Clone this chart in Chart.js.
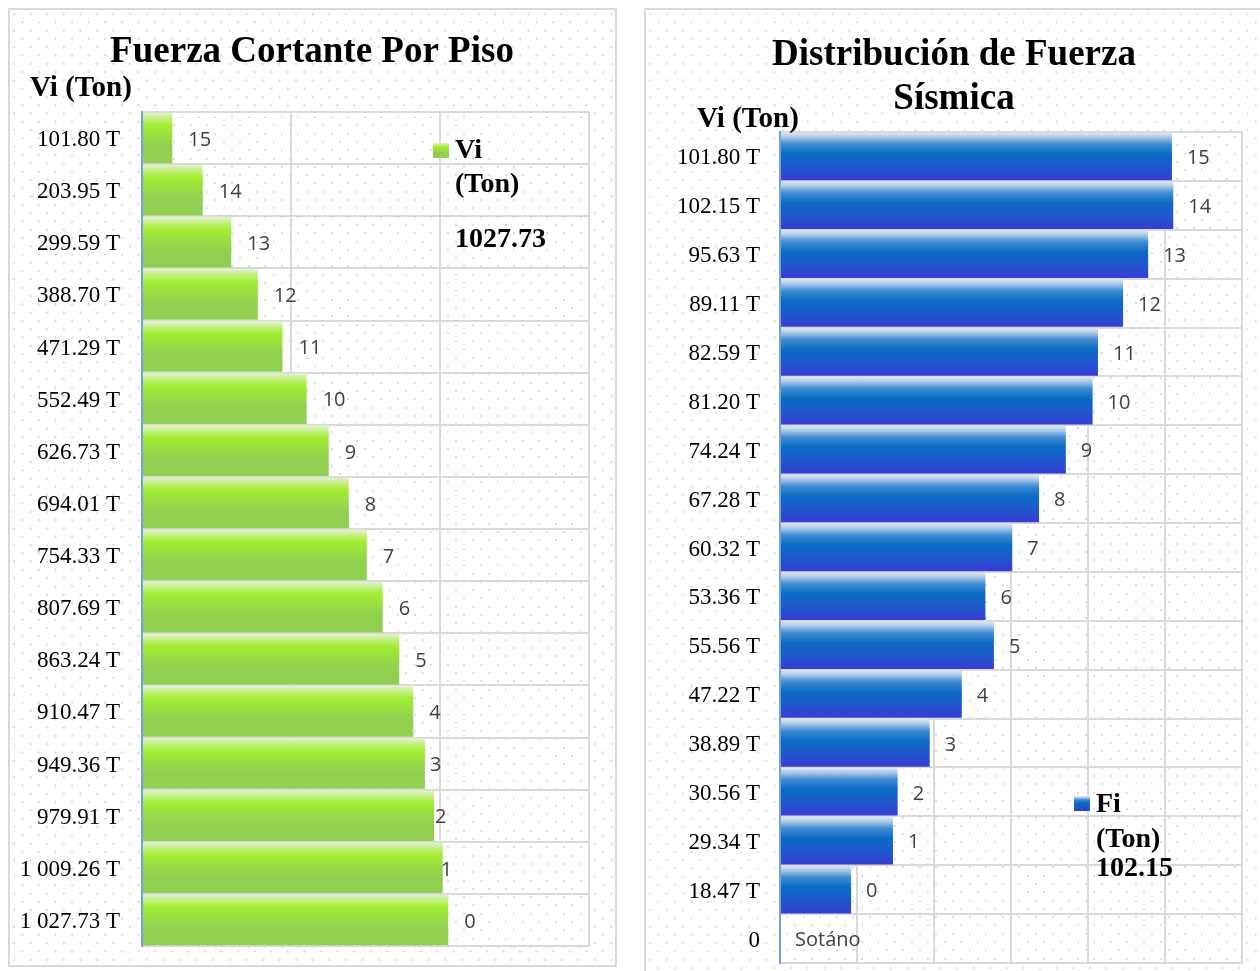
<!DOCTYPE html>
<html>
<head>
<meta charset="utf-8">
<script src="https://cdn.jsdelivr.net/npm/chart.js@4.4.1/dist/chart.umd.min.js"></script>
<style>
    body {
        margin: 0;
        width: 1260px;
        height: 971px;
        overflow: hidden;
        background: #fff;
        position: relative;
    }
    .caja {
        position: absolute;
        border: 2px solid #d9d9d9;
        background-color: #fff;
        background-size: 16.6px 16.6px;
        background-position: 4px 4px, 12.3px 12.3px;
    }
    #cajaCortante {
        left: 8px;
        top: 8px;
        width: 605px;
        height: 955px;
        background-image: radial-gradient(circle, #f9cdb4 0.9px, transparent 1.4px),
                          radial-gradient(circle, #f9cdb4 0.9px, transparent 1.4px);
    }
    #cajaSismica {
        left: 644px;
        top: 8px;
        width: 616px;
        height: 970px;
        background-image: radial-gradient(circle, #d3e6c6 0.9px, transparent 1.4px),
                          radial-gradient(circle, #d3e6c6 0.9px, transparent 1.4px);
    }
    canvas { display: block; }
</style>
</head>
<body>
<div class="caja" id="cajaCortante"><canvas id="cortanteChart" width="605" height="955"></canvas></div>
<div class="caja" id="cajaSismica"><canvas id="sismicaChart" width="616" height="970"></canvas></div>

<script>
// Fuerza cortante por piso (Vi)
const ticksCortante = [
    '101.80 T', '203.95 T', '299.59 T', '388.70 T', '471.29 T', '552.49 T', '626.73 T', '694.01 T',
    '754.33 T', '807.69 T', '863.24 T', '910.47 T', '949.36 T', '979.91 T', '1 009.26 T', '1 027.73 T'
];
const valoresCortante = [
    101.80, 203.95, 299.59, 388.70, 471.29, 552.49, 626.73, 694.01,
    754.33, 807.69, 863.24, 910.47, 949.36, 979.91, 1009.26, 1027.73
];
const pisosCortante = ['15', '14', '13', '12', '11', '10', '9', '8', '7', '6', '5', '4', '3', '2', '1', '0'];
const leyendaCortante = ['Vi', '(Ton)', '1027.73'];

// Distribucion de fuerza sismica (Fi)
const ticksSismica = [
    '101.80 T', '102.15 T', '95.63 T', '89.11 T', '82.59 T', '81.20 T', '74.24 T', '67.28 T', '60.32 T',
    '53.36 T', '55.56 T', '47.22 T', '38.89 T', '30.56 T', '29.34 T', '18.47 T', '0'
];
const valoresSismica = [
    101.80, 102.15, 95.63, 89.11, 82.59, 81.20, 74.24, 67.28, 60.32,
    53.36, 55.56, 47.22, 38.89, 30.56, 29.34, 18.47, 0
];
const pisosSismica = ['15', '14', '13', '12', '11', '10', '9', '8', '7', '6', '5', '4', '3', '2', '1', '0', 'Sotáno'];
const leyendaSismica = ['Fi', '(Ton)', '102.15'];

const VERDE = [[0, '#e8f2dc'], [0.08, '#cff09c'], [0.25, '#a2ee32'], [0.65, '#92d050'], [1, '#91cf52']];
const AZUL = [[0, '#e2ebf6'], [0.1, '#aecbea'], [0.25, '#3f8bd1'], [0.45, '#0a6cc3'], [0.72, '#1f57cc'], [1, '#3a3ad6']];

const SERIF = '"Liberation Serif", "Times New Roman", serif';

function gradiente(ctx, stops, y0, y1) {
    const g = ctx.createLinearGradient(0, y0, 0, y1);
    stops.forEach(s => g.addColorStop(s[0], s[1]));
    return g;
}

// one gradient per bar, from its top edge to its bottom edge
function colorBarra(stops) {
    return function (context) {
        const chart = context.chart;
        const { ctx, chartArea, scales } = chart;
        if (!chartArea || !scales.y || context.dataIndex === undefined) return stops[3][1];
        const y = scales.y.getPixelForValue(context.dataIndex);
        const h = (chartArea.bottom - chartArea.top) / chart.data.labels.length;
        return gradiente(ctx, stops, y - h / 2, y + h / 2);
    };
}

function etiquetas(textos, desfase, especiales) {
    return {
        id: 'etiquetas',
        afterDatasetsDraw(chart) {
            const ctx = chart.ctx;
            const meta = chart.getDatasetMeta(0);
            ctx.save();
            ctx.font = '20px "Open Sans", sans-serif';
            ctx.fillStyle = '#404040';
            ctx.textAlign = 'left';
            ctx.textBaseline = 'middle';
            meta.data.forEach((bar, i) => {
                const dx = (especiales && especiales[i] !== undefined) ? especiales[i] : desfase;
                ctx.fillText(textos[i], bar.x + dx, bar.y + 2);
            });
            ctx.restore();
        }
    };
}

function decoracion(cfg) {
    return {
        id: 'decoracion',
        beforeDraw(chart) {
            const { ctx, chartArea: a } = chart;
            ctx.save();
            ctx.fillStyle = '#fff';
            ctx.fillRect(a.left, a.top, a.right - a.left, a.bottom - a.top);
            ctx.fillStyle = '#cfe0f3';
            for (let y = a.top + 4, r = 0; y < a.bottom; y += 8.3, r++) {
                for (let x = a.left + 6 + (r % 2) * 8.3; x < a.right; x += 16.6) {
                    ctx.fillRect(Math.round(x), Math.round(y), 2, 2);
                }
            }
            ctx.restore();
        },
        afterDraw(chart) {
            const ctx = chart.ctx;
            ctx.save();
            ctx.fillStyle = '#000';
            ctx.textBaseline = 'middle';

            ctx.font = 'bold 37px ' + SERIF;
            ctx.textAlign = 'center';
            cfg.titulo.forEach((t, i) => ctx.fillText(t, cfg.tituloX, cfg.tituloY + i * 44));

            ctx.font = 'bold 29px ' + SERIF;
            ctx.textAlign = 'left';
            ctx.fillText('Vi (Ton)', cfg.ejeX, cfg.ejeY);

            const l = cfg.leyenda;
            ctx.fillStyle = gradiente(ctx, cfg.colores, l.y, l.y + 15);
            ctx.fillRect(l.x, l.y, 16, 15);
            ctx.fillStyle = '#000';
            ctx.font = 'bold 28px ' + SERIF;
            l.textos.forEach((t, i) => ctx.fillText(t, l.x + 22, l.lineas[i]));
            ctx.restore();
        }
    };
}

function crearGrafico(id, cfg) {
    const ctx = document.getElementById(id).getContext('2d');
    return new Chart(ctx, {
        type: 'bar',
        data: {
            labels: cfg.ticks,
            datasets: [{
                label: cfg.leyenda.textos.join(' '),
                data: cfg.valores,
                backgroundColor: colorBarra(cfg.colores),
                borderWidth: 0,
                barPercentage: 0.97,
                categoryPercentage: 1
            }]
        },
        options: {
            indexAxis: 'y',
            responsive: false,
            animation: false,
            layout: { padding: cfg.padding },
            plugins: {
                legend: { display: false },
                title: { display: false },
                tooltip: { enabled: false }
            },
            scales: {
                x: {
                    min: 0,
                    max: cfg.max,
                    ticks: { display: false, stepSize: cfg.paso },
                    grid: {
                        color: c => c.index === 0 ? 'rgba(0,0,0,0)' : '#d9d9d9',
                        lineWidth: 2,
                        drawTicks: false
                    },
                    border: { color: '#d9d9d9', width: 2 },
                    afterFit: s => { s.height = 0; s.paddingLeft = 0; s.paddingRight = 0; }
                },
                y: {
                    ticks: {
                        color: '#000',
                        padding: cfg.tickPad,
                        labelOffset: 2,
                        font: { family: SERIF, size: 23 }
                    },
                    grid: { color: '#d9d9d9', lineWidth: 2, drawTicks: false },
                    border: { color: '#6fa3da', width: 2 },
                    afterFit: s => { s.width = cfg.anchoEje; s.paddingTop = 0; s.paddingBottom = 0; }
                }
            }
        },
        plugins: [decoracion(cfg), etiquetas(cfg.pisos, cfg.desfase, cfg.especiales)]
    });
}

document.addEventListener("DOMContentLoaded", () => {
    crearGrafico('cortanteChart', {
        ticks: ticksCortante,
        valores: valoresCortante,
        pisos: pisosCortante,
        colores: VERDE,
        max: 1500,
        paso: 500,
        padding: { top: 102, right: 26, bottom: 19, left: 0 },
        anchoEje: 132,
        tickPad: 22,
        desfase: 16,
        especiales: { 12: 5, 13: 1, 14: -2 },
        titulo: ['Fuerza Cortante Por Piso'],
        tituloX: 302,
        tituloY: 42,
        ejeX: 20,
        ejeY: 79,
        leyenda: { x: 423, y: 133, textos: leyendaCortante, lineas: [141, 175, 230] }
    });

    crearGrafico('sismicaChart', {
        ticks: ticksSismica,
        valores: valoresSismica,
        pisos: pisosSismica,
        colores: AZUL,
        max: 120,
        paso: 20,
        padding: { top: 122, right: 20, bottom: 17, left: 0 },
        anchoEje: 134,
        tickPad: 20,
        desfase: 15,
        titulo: ['Distribución de Fuerza', 'Sísmica'],
        tituloX: 308,
        tituloY: 45,
        ejeX: 51,
        ejeY: 110,
        leyenda: { x: 428, y: 786, textos: leyendaSismica, lineas: [795, 830, 859] }
    });
});
</script>
</body>
</html>
